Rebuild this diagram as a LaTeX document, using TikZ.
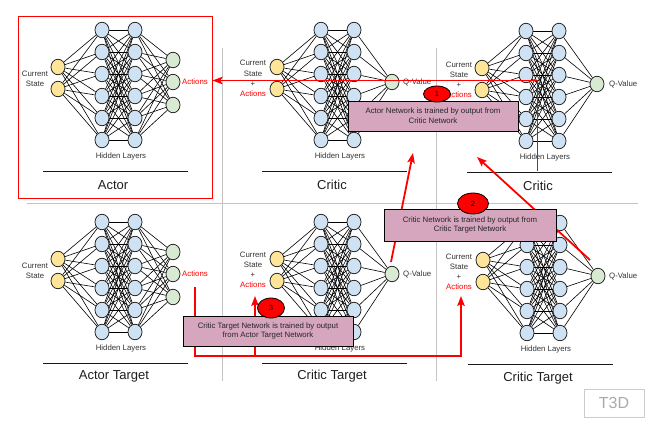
\documentclass[tikz,border=0pt]{standalone}
\usepackage{fontspec}
\setmainfont{Liberation Sans}
\usetikzlibrary{arrows.meta,backgrounds,shapes.geometric}
\pgfdeclarelayer{paper}
\pgfsetlayers{paper,background,main}
\definecolor{hidfill}{HTML}{CFE2F3}
\definecolor{inpfill}{HTML}{FFE599}
\definecolor{outfill}{HTML}{D9EAD3}
\definecolor{boxpink}{HTML}{D5A6BD}
\definecolor{gridgray}{HTML}{C4C4C4}
\definecolor{txtgray}{HTML}{333333}
\definecolor{t3dgray}{HTML}{AAAAAA}
\definecolor{t3dborder}{HTML}{CCCCCC}
\tikzset{
  neuron/.style={ellipse, draw=black!85, line width=0.8pt, minimum width=14pt, minimum height=15.5pt, inner sep=0pt},
  hid/.style={neuron, fill=hidfill},
  inp/.style={neuron, fill=inpfill},
  outn/.style={neuron, fill=outfill},
  edge/.style={draw=black, line width=0.6pt},
  uline/.style={draw=black!90, line width=0.9pt},
  lbl/.style={font=\fontsize{7.8}{10.2}\selectfont, text=txtgray, inner sep=0pt, align=center},
  redlbl/.style={font=\fontsize{7.8}{10.2}\selectfont, text=red, inner sep=0pt},
  ttl/.style={font=\fontsize{13}{15}\selectfont, text=black!88, inner sep=0pt},
  redarrow/.style={draw=red, line width=1.8pt, -{Stealth[length=10pt,width=7.5pt,inset=2pt]}},
  note/.style={rectangle, draw=black, fill=boxpink, line width=0.9pt, align=center, inner sep=0pt,
     font=\fontsize{7.8}{9.6}\selectfont, text=black!85},
  badge/.style={ellipse, draw=black, fill=red, line width=0.8pt, inner sep=0pt, font=\fontsize{7.5}{9}\selectfont},
  gridline/.style={draw=gridgray, line width=0.8pt}
}
% #1 prefix, #2 x0 (input column), #3 y0 (top hidden node), #4 output y offsets
\newcommand{\drawnet}[4]{%
  \foreach \k in {1,...,6}{
    \node[hid] (#1ha\k) at ({#2+44},{#3+22*(\k-1)}) {};
    \node[hid] (#1hb\k) at ({#2+77},{#3+22*(\k-1)}) {};
  }
  \node[inp] (#1i1) at ({#2},{#3+37}) {};
  \node[inp] (#1i2) at ({#2},{#3+59}) {};
  \foreach \oy [count=\c] in {#4}{
    \node[outn] (#1o\c) at ({#2+115},{#3+\oy}) {};
  }
  \begin{pgfonlayer}{background}
    \foreach \a in {1,2}{\foreach \b in {1,...,6}{\draw[edge] (#1i\a) -- (#1ha\b);}}
    \foreach \a in {1,...,6}{\foreach \b in {1,...,6}{\draw[edge] (#1ha\a) -- (#1hb\b);}}
    \foreach \oy [count=\c] in {#4}{\foreach \b in {1,...,6}{\draw[edge] (#1hb\b) -- (#1o\c);}}
  \end{pgfonlayer}
  \node[lbl] (#1hl) at ({#2+63},{#3+126}) {Hidden Layers};
  \coordinate (#1ul) at ({#2-15},{#3+141});
  \coordinate (#1ur) at ({#2+130},{#3+141});
  \draw[uline] (#1ul) -- (#1ur);
}
\begin{document}
\begin{tikzpicture}[x=1pt,y=-1pt]
\useasboundingbox (0,0) rectangle (665,426);
\begin{pgfonlayer}{paper}
\fill[white] (0,0) rectangle (665,426);
\end{pgfonlayer}

% grid lines
\begin{pgfonlayer}{background}
\draw[gridline] (27,203) -- (638,203);
\draw[gridline] (222,48) -- (222,381);
\draw[gridline] (436,48) -- (436,381);
\end{pgfonlayer}

% ---------- Actor ----------
\drawnet{A}{58}{30}{30,52,75}
\node[lbl] (Acs) at (35,79) {Current\\State};
\node[redlbl, anchor=west] (Aact) at (182,82) {Actions};
\node[ttl] (Attl) at (113,185) {Actor};
\node[draw=red, line width=1pt, minimum width=194pt, minimum height=182pt, inner sep=0pt] (actorbox) at (115,107) {};

% ---------- Critic (middle) ----------
\drawnet{C}{277}{30}{52}
\node[lbl] (Ccs) at (253,78.5) {Current\\State\\+\\\textcolor{red}{Actions}};
\node[lbl, anchor=west] (Cq) at (403,82) {Q-Value};
\node[ttl] (Cttl) at (332,185) {Critic};

% ---------- Critic (right) ----------
\drawnet{D}{482}{31}{53}
\node[lbl] (Dcs) at (459,80) {Current\\State\\+\\\textcolor{red}{Actions}};
\node[lbl, anchor=west] (Dq) at (609,84) {Q-Value};
\node[ttl] (Dttl) at (538,186) {Critic};

% ---------- Actor Target ----------
\drawnet{E}{58}{222}{30,52,75}
\node[lbl] (Ecs) at (35,271) {Current\\State};
\node[redlbl, anchor=west] (Eact) at (182,274) {Actions};
\node[ttl] (Ettl) at (114,376) {Actor Target};

% ---------- Critic Target (middle) ----------
\drawnet{F}{277}{222}{52}
\node[lbl] (Fcs) at (253,270) {Current\\State\\+\\\textcolor{red}{Actions}};
\node[lbl, anchor=west] (Fq) at (403,274) {Q-Value};
\node[ttl] (Fttl) at (332,376) {Critic Target};

% ---------- Critic Target (right) ----------
\drawnet{G}{483}{223}{53}
\node[lbl] (Gcs) at (459,272) {Current\\State\\+\\\textcolor{red}{Actions}};
\node[lbl, anchor=west] (Gq) at (609,276) {Q-Value};
\node[ttl] (Gttl) at (538,378) {Critic Target};

% ---------- red connectors ----------
\coordinate (r1s) at (537.5,171);
\coordinate (r1c) at (537.5,80.5);
\draw[redarrow] (r1s) -- (r1c) -- (actorbox.east |- r1c);

\coordinate (r2s) at (590,260);
\coordinate (r2e) at (477,157);
\draw[redarrow] (r2s) -- (r2e);

\coordinate (r3s) at (391,262);
\coordinate (r3e) at (413,153);
\draw[redarrow] (r3s) -- (r3e);

\coordinate (r4s) at (195,287);
\coordinate (r4a) at (195,356);
\coordinate (r4b) at (461,356);
\coordinate (r4e) at (461,296);
\coordinate (r5a) at (255,356);
\coordinate (r5e) at (255,296);
\draw[redarrow] (r4s) -- (r4a) -- (r4b) -- (r4e);
\draw[redarrow] (r5a) -- (r5e);

% ---------- notes ----------
\node[note, minimum width=170pt, minimum height=30pt] (n1) at (433,116) {Actor Network is trained by output from\\Critic Network};
\node[note, minimum width=172pt, minimum height=32pt] (n2) at (470,225) {Critic Network is trained by output from\\Critic Target Network};
\node[note, minimum width=170pt, minimum height=30pt] (n3) at (268,331) {Critic Target Network is trained by output\\from Actor Target Network};

\node[badge, minimum width=27pt, minimum height=16pt] (b1) at (437,94) {1};
\node[badge, minimum width=31pt, minimum height=21pt] (b2) at (473,203.5) {2};
\node[badge, minimum width=27pt, minimum height=20pt] (b3) at (271,308) {3};

% ---------- T3D ----------
\node[draw=t3dborder, line width=0.8pt, minimum width=60pt, minimum height=28pt, inner sep=0pt,
      font=\fontsize{16}{18}\selectfont, text=t3dgray] (t3d) at (614,403) {T3D};
\end{tikzpicture}
\end{document}
